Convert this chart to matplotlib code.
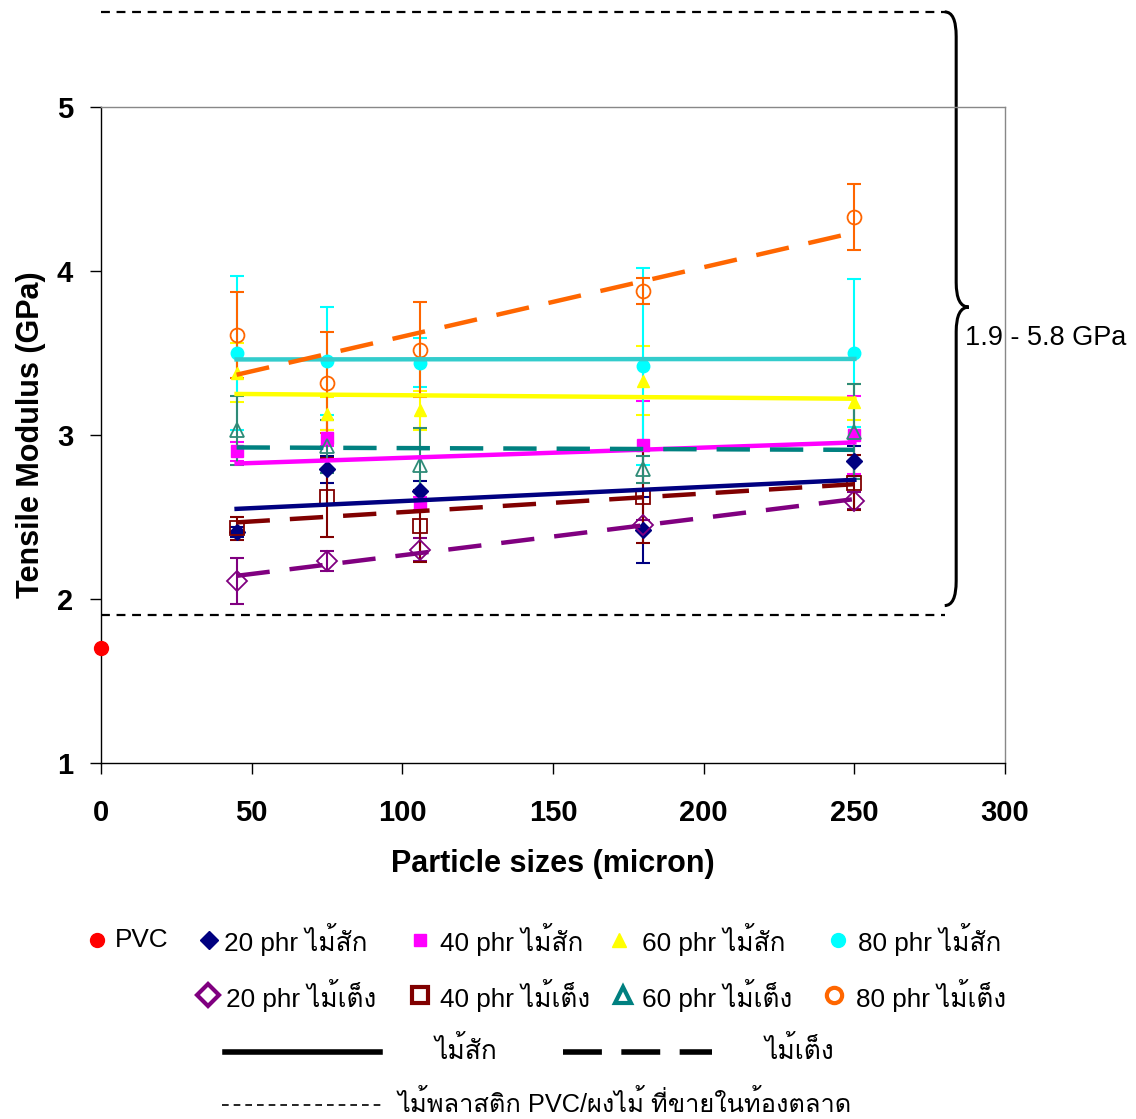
import numpy as np
import matplotlib
matplotlib.use("Agg")
import matplotlib.pyplot as plt
from matplotlib.lines import Line2D
from matplotlib.path import Path
from matplotlib.patches import PathPatch

# data
sizes = [45, 75, 106, 180, 250]
pvc_x, pvc_y = [0], [1.70]

teak_20 = [2.41, 2.79, 2.66, 2.42, 2.84]
teak_40 = [2.90, 2.98, 2.58, 2.94, 3.00]
teak_60 = [3.38, 3.13, 3.15, 3.33, 3.20]
teak_80 = [3.50, 3.45, 3.44, 3.42, 3.50]
teng_20 = [2.11, 2.23, 2.30, 2.45, 2.60]
teng_40 = [2.43, 2.62, 2.445, 2.62, 2.71]
teng_60 = [3.03, 2.93, 2.82, 2.79, 3.02]
teng_80 = [3.61, 3.32, 3.52, 3.88, 4.33]

err_teak_20 = [0.03, 0.08, 0.06, 0.20, 0.09]
err_teak_40 = [0.06, 0.05, 0.04, 0.27, 0.24]
err_teak_60 = [0.18, 0.10, 0.12, 0.21, 0.11]
err_teak_80 = [0.47, 0.33, 0.15, 0.60, 0.45]
err_teng_20 = [0.14, 0.06, 0.07, 0.03, 0.05]
err_teng_40 = [0.07, 0.24, 0.22, 0.28, 0.17]
err_teng_60 = [0.21, 0.16, 0.22, 0.08, 0.29]
err_teng_80 = [0.26, 0.31, 0.29, 0.08, 0.20]

market_range = [1.9, 5.8]

# Loma places the Thai tone marks without shaping
plt.rcParams['font.family'] = ['Liberation Sans', 'Loma', 'DejaVu Sans']

W, H = 1136, 1119
fig = plt.figure(figsize=(W / 100, H / 100), dpi=100)
ax = fig.add_axes([101 / W, 1 - 763 / H, (1005 - 101) / W, (763 - 107) / H])


def fx(px):
    return px / W


def fy(py):
    return 1 - py / H


series = [
    (teak_20, err_teak_20, '#000080', 'D', True, '-', '#000080'),
    (teak_40, err_teak_40, '#FF00FF', 's', True, '-', '#FF00FF'),
    (teak_60, err_teak_60, '#FFFF00', '^', True, '-', '#FFFF00'),
    (teak_80, err_teak_80, '#00FFFF', 'o', True, '-', '#33CCCC'),
    (teng_20, err_teng_20, '#800080', 'D', False, '--', '#800080'),
    (teng_40, err_teng_40, '#800000', 's', False, '--', '#800000'),
    (teng_60, err_teng_60, '#2E8B77', '^', False, '--', '#008080'),
    (teng_80, err_teng_80, '#FF6600', 'o', False, '--', '#FF6600'),
]

xs = np.array(sizes)
for vals, errs, col, mk, filled, ls, tcol in series:
    ax.errorbar(xs, vals, yerr=errs, fmt='none', ecolor=col, elinewidth=1.5,
                capsize=5, capthick=1.5, zorder=2)
    if filled:
        ax.plot(xs, vals, linestyle='none', marker=mk, color=col,
                markersize=8 if mk != 'o' else 9, zorder=3)
    else:
        ax.plot(xs, vals, linestyle='none', marker=mk, markerfacecolor='none',
                markeredgecolor=col, markeredgewidth=1.3, markersize=10, zorder=3)
    # linear trend line
    k, b = np.polyfit(xs, vals, 1)
    xt = np.array([xs.min(), xs.max()])
    line, = ax.plot(xt, k * xt + b, color=tcol, linewidth=3.2, zorder=4)
    if ls == '--':
        line.set_dashes((7.5, 4.5))

ax.plot(pvc_x, pvc_y, linestyle='none', marker='o', color='#FF0000',
        markersize=10, clip_on=False, zorder=5)

ax.set_xlim(0, 300)
ax.set_ylim(1, 5)
ax.set_xticks(range(0, 301, 50))
ax.set_yticks(range(1, 6))
for sp in ['top', 'right']:
    ax.spines[sp].set_color('#888888')
    ax.spines[sp].set_linewidth(1)
for sp in ['left', 'bottom']:
    ax.spines[sp].set_color('black')
    ax.spines[sp].set_linewidth(1)
ax.tick_params(direction='out', length=8, width=1, labelsize=21)
ax.tick_params(axis='x', pad=18)
ax.tick_params(axis='y', pad=12)
for t in ax.get_xticklabels() + ax.get_yticklabels():
    t.set_fontweight('bold')
ax.set_xlabel('Particle sizes (micron)', fontsize=22, fontweight='bold', labelpad=16)
ax.set_ylabel('Tensile Modulus (GPa)', fontsize=22, fontweight='bold', labelpad=8)

# market range: dashed limits and brace
y_top = 5.58
ax.plot([0, 280], [market_range[0], market_range[0]], color='black', lw=1.6,
        dashes=(4, 3), clip_on=False, zorder=1)
ax.plot([0, 280], [y_top, y_top], color='black', lw=1.6,
        dashes=(4, 3), clip_on=False, zorder=1)
xs0, xm, xtip = 280, 283.8, 288.0
yb, ytip = 1.96, 3.78
verts = [(xs0, y_top), (xm, y_top), (xm, y_top - 0.15),
         (xm, ytip + 0.15),
         (xm, ytip), (xtip, ytip),
         (xm, ytip), (xm, ytip - 0.15),
         (xm, yb + 0.15),
         (xm, yb), (xs0, yb)]
codes = [Path.MOVETO, Path.CURVE3, Path.CURVE3, Path.LINETO,
         Path.CURVE3, Path.CURVE3, Path.CURVE3, Path.CURVE3,
         Path.LINETO, Path.CURVE3, Path.CURVE3]
ax.add_patch(PathPatch(Path(verts, codes), fill=False, lw=2.2, color='black',
                       clip_on=False))
fig.text(fx(965), fy(338), '1.9 - 5.8 GPa', fontsize=19.5, va='center', ha='left')

# legend, placed by hand to follow the original layout
rows = [
    [(97, '#FF0000', 'o', True, 'PVC', 115),
     (209, '#000080', 'D', True, '20 phr ไม้สัก', 224),
     (420, '#FF00FF', 's', True, '40 phr ไม้สัก', 440),
     (619, '#FFFF00', '^', True, '60 phr ไม้สัก', 642),
     (838, '#00FFFF', 'o', True, '80 phr ไม้สัก', 858)],
    [(208, '#800080', 'D', False, '20 phr ไม้เต็ง', 226),
     (420, '#800000', 's', False, '40 phr ไม้เต็ง', 440),
     (623, '#008080', '^', False, '60 phr ไม้เต็ง', 642),
     (834, '#FF6600', 'o', False, '80 phr ไม้เต็ง', 856)],
]
row_y = [940, 995]
for r, ypx in zip(rows, row_y):
    for mx, col, mk, filled, lab, tx in r:
        if filled:
            fig.add_artist(Line2D([fx(mx)], [fy(ypx)], marker=mk, color=col,
                                  markersize=10 if mk in 'o^' else 9, linestyle='none'))
        else:
            fig.add_artist(Line2D([fx(mx)], [fy(ypx)], marker=mk, markerfacecolor='white',
                                  markeredgecolor=col, markeredgewidth=3,
                                  markersize=11, linestyle='none'))
        fig.text(fx(tx), fy(ypx), lab, fontsize=18.8, va='center', ha='left')

fig.add_artist(Line2D([fx(225), fx(380)], [fy(1052), fy(1052)], color='black', lw=4))
fig.text(fx(435), fy(1050), 'ไม้สัก', fontsize=19, va='center', ha='left')
fig.add_artist(Line2D([fx(563), fx(712)], [fy(1052), fy(1052)], color='black', lw=4,
                      dashes=(7, 3.5)))
fig.text(fx(765), fy(1050), 'ไม้เต็ง', fontsize=19, va='center', ha='left')
fig.add_artist(Line2D([fx(222), fx(382)], [fy(1105), fy(1105)], color='black', lw=1.2,
                      dashes=(4, 3)))
fig.text(fx(398), fy(1103), 'ไม้พลาสติก PVC/ผงไม้ ที่ขายในท้องตลาด', fontsize=18.3,
         va='center', ha='left')

fig.savefig('out.png', dpi=100)
